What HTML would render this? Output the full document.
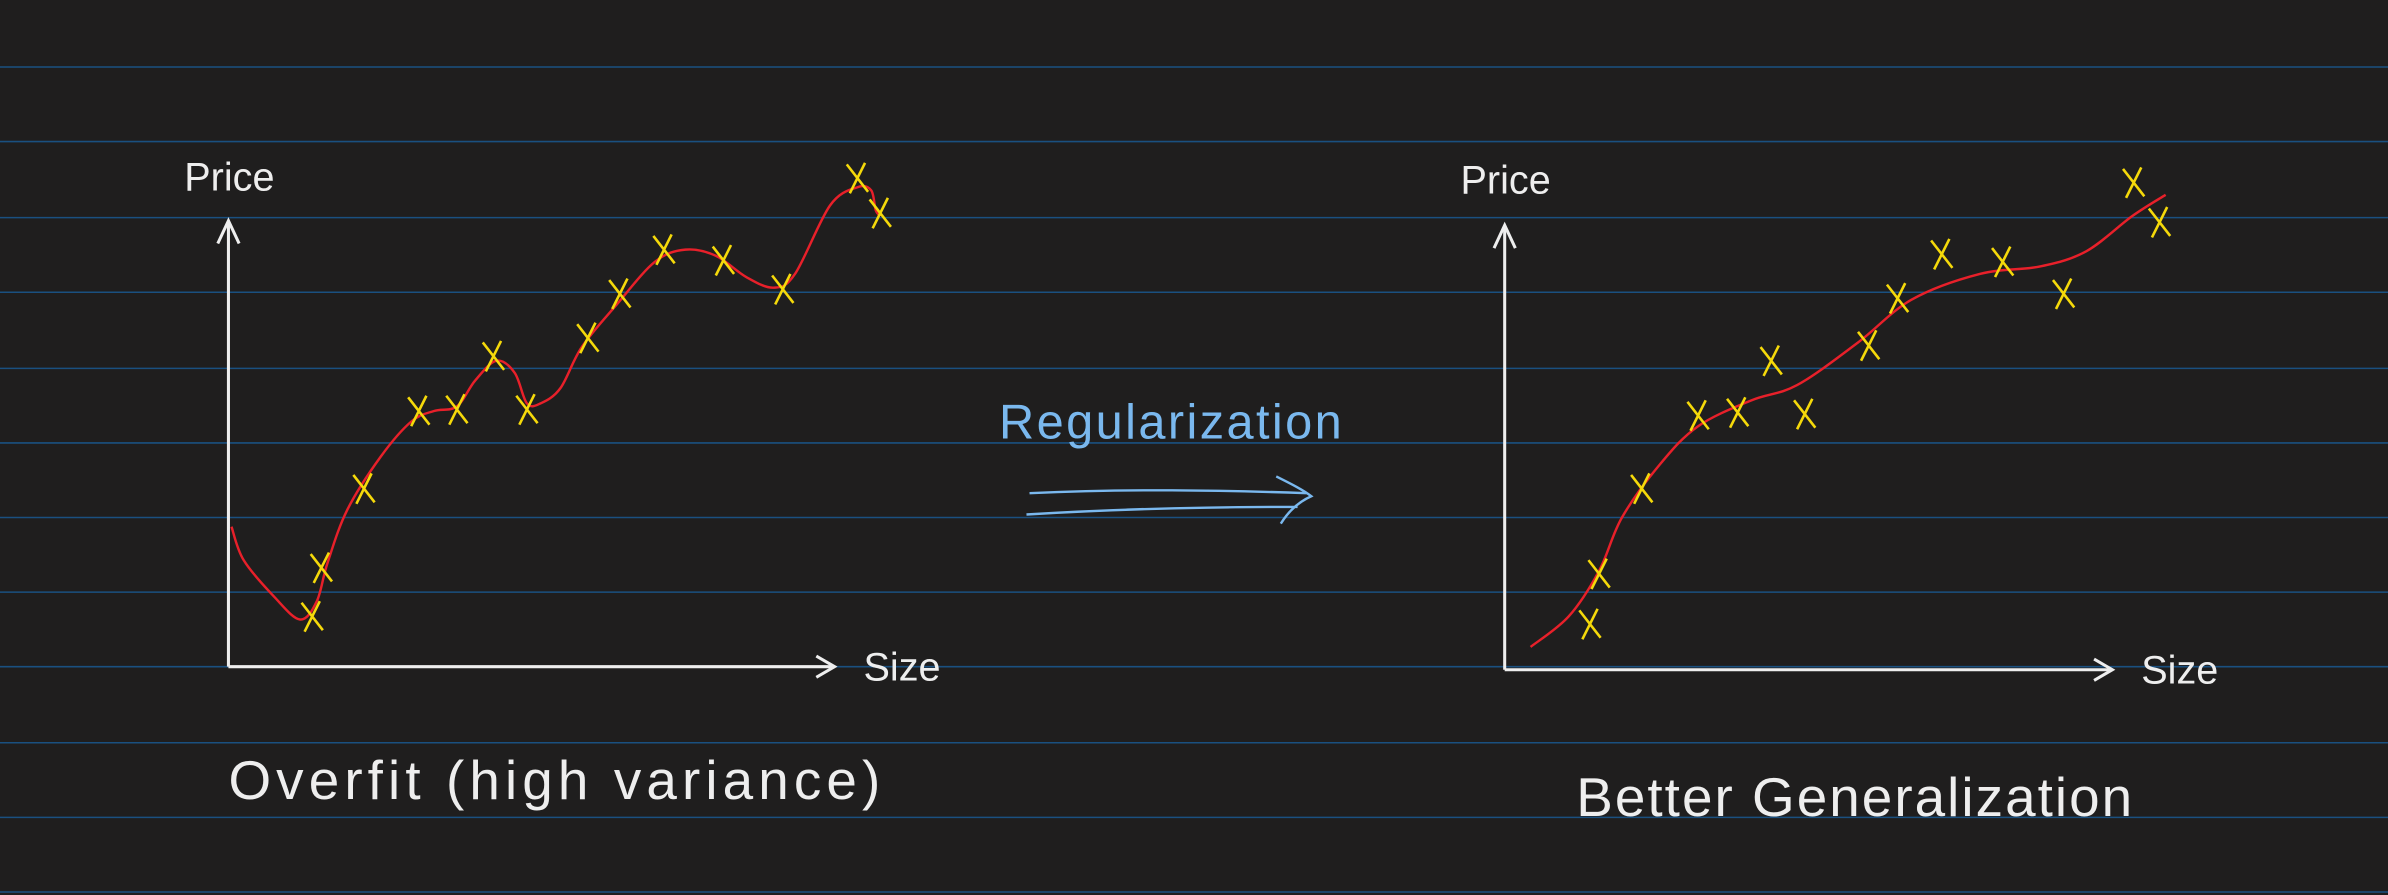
<!DOCTYPE html>
<html><head><meta charset="utf-8"><style>
html,body{margin:0;padding:0;background:#1f1e1e;}
svg{display:block;}
text{font-family:"Liberation Sans",sans-serif;}
</style></head><body>
<svg id="c" width="2388" height="895" viewBox="0 0 1568 588" preserveAspectRatio="none" xmlns="http://www.w3.org/2000/svg">
<rect width="1568" height="588" fill="#1f1e1e"/>
<g id="rules"></g>
<g>
 <line x1="150" y1="438" x2="150" y2="146" stroke="#eee" stroke-width="2"/>
 <polyline points="143,160 150,145 157,160" fill="none" stroke="#eee" stroke-width="2"/>
 <line x1="150" y1="438" x2="548" y2="438" stroke="#eee" stroke-width="2"/>
 <polyline points="536,431 548,438 536,445" fill="none" stroke="#eee" stroke-width="2"/>
 <text x="121" y="125" fill="#eee" font-size="26">Price</text>
 <text x="567" y="447" fill="#eee" font-size="26">Size</text>
 <g id="lc"></g>
 <text x="150" y="525" fill="#eee" font-size="36" textLength="428">Overfit (high variance)</text>
</g>
<g>
 <text x="656" y="288" fill="#7ab8ee" font-size="32" textLength="225">Regularization</text>
 <path d="M676,324 C740,321 800,322 858,324 M674,338 C740,334 800,333 852,333 M838,313 C848,318 856,322 861,326 C852,330 846,336 841,344" fill="none" stroke="#7ab8ee" stroke-width="1.6"/>
</g>
<g>
 <line x1="988" y1="440" x2="988" y2="149" stroke="#eee" stroke-width="2"/>
 <polyline points="981,163 988,148 995,163" fill="none" stroke="#eee" stroke-width="2"/>
 <line x1="988" y1="440" x2="1387" y2="440" stroke="#eee" stroke-width="2"/>
 <polyline points="1375,433 1387,440 1375,447" fill="none" stroke="#eee" stroke-width="2"/>
 <text x="959" y="127" fill="#eee" font-size="26">Price</text>
 <text x="1406" y="449" fill="#eee" font-size="26">Size</text>
 <g id="rc"></g>
 <text x="1035" y="536" fill="#eee" font-size="36" textLength="365">Better Generalization</text>
</g>
</svg>
<script>
const ruleYs = [44, 93, 143, 192, 242, 291, 340, 389, 438, 488, 537, 586];
const leftSize = [55, 61, 89, 125, 150, 174, 196, 236, 257, 286, 325, 364, 413, 428];
const leftPrice = [33, 65, 117, 168, 169, 204, 169, 216, 245, 274, 267, 248, 321, 298];
const leftCurveSize = [2, 10, 30, 47, 58, 65, 78, 100, 120, 135, 150, 162, 176, 188, 196, 205, 218, 232, 255, 280, 300, 320, 340, 358, 372, 395, 413, 422, 425, 428];
const leftCurvePrice = [92, 70, 46, 31, 43, 68, 103, 138, 161, 168, 171, 188, 201, 193, 173, 173, 183, 210, 238, 266, 274, 270, 256, 249, 258, 303, 315, 313, 300, 296];
const rightSize = [56, 62, 90, 127, 153, 175, 197, 239, 258, 287, 327, 367, 413, 430];
const rightPrice = [30, 63, 119, 167, 169, 203, 168, 213, 244, 273, 268, 247, 320, 294];
const rightCurveSize = [17, 42, 62, 77, 102, 127, 162, 192, 232, 267, 312, 352, 382, 412, 434];
const rightCurvePrice = [15, 35, 65, 100, 135, 160, 177, 187, 215, 243, 260, 265, 275, 298, 312];

const NS = "http://www.w3.org/2000/svg";
const rules = document.getElementById('rules');
ruleYs.forEach(y => {
  const l = document.createElementNS(NS, 'line');
  
  
  l.setAttribute('x1', 0); l.setAttribute('x2', 1568);
  l.setAttribute('y1', y); l.setAttribute('y2', y);
  l.setAttribute('stroke', '#1a5080'); l.setAttribute('stroke-width', '1');
  rules.appendChild(l);
});

function makeAxes(ox, oy) {
  return { x: v => ox + v, y: v => oy - v };
}
function smoothPath(pts) {
  let d = 'M' + pts[0][0] + ',' + pts[0][1];
  for (let i = 0; i < pts.length - 1; i++) {
    const p0 = pts[i - 1] || pts[i], p1 = pts[i], p2 = pts[i + 1], p3 = pts[i + 2] || p2;
    const c1x = p1[0] + (p2[0] - p0[0]) / 6, c1y = p1[1] + (p2[1] - p0[1]) / 6;
    const c2x = p2[0] - (p3[0] - p1[0]) / 6, c2y = p2[1] - (p3[1] - p1[1]) / 6;
    d += ' C' + c1x + ',' + c1y + ' ' + c2x + ',' + c2y + ' ' + p2[0] + ',' + p2[1];
  }
  return d;
}
function draw(gid, ax, cs, cp, ps, pp) {
  const g = document.getElementById(gid);
  const pts = cs.map((s, i) => [ax.x(s), ax.y(cp[i])]);
  const path = document.createElementNS(NS, 'path');
  
  
  path.setAttribute('d', smoothPath(pts));
  path.setAttribute('fill', 'none'); path.setAttribute('stroke', '#e8202a'); path.setAttribute('stroke-width', '1.6');
  g.appendChild(path);
  ps.forEach((s, i) => {
    const cx = ax.x(s), cy = ax.y(pp[i]);
    const m = document.createElementNS(NS, 'path');
    
    
    m.setAttribute('d', `M${cx-7},${cy-9} L${cx+7},${cy+9} M${cx+5},${cy-10} L${cx-5},${cy+10}`);
    m.setAttribute('stroke', '#f5d90a'); m.setAttribute('stroke-width', '1.7'); m.setAttribute('fill', 'none');
    g.appendChild(m);
  });
}
draw('lc', makeAxes(150, 438), leftCurveSize, leftCurvePrice, leftSize, leftPrice);
draw('rc', makeAxes(988, 440), rightCurveSize, rightCurvePrice, rightSize, rightPrice);
</script>
</body></html>
